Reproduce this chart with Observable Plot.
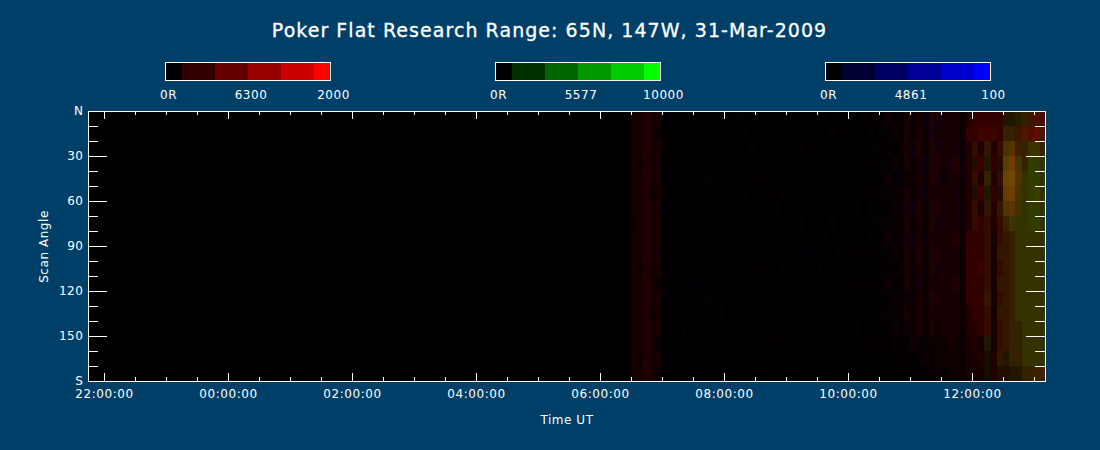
<!DOCTYPE html>
<html>
<head>
<meta charset="utf-8">
<script src="https://cdn.jsdelivr.net/npm/d3@7"></script>
<script src="https://cdn.jsdelivr.net/npm/@observablehq/plot@0.6"></script>
<style>
html,body{margin:0;padding:0;background:#004068;width:1100px;height:450px;overflow:hidden}
#title{position:absolute;left:0;top:18px;width:1099px;text-align:center;color:#fff;font:19px "DejaVu Sans",sans-serif;letter-spacing:1.05px;line-height:24px;-webkit-text-stroke:.3px #fff}
.pane{position:absolute}
svg{display:block}
</style>
</head>
<body>
<div id="title">Poker Flat Research Range: 65N, 147W, 31-Mar-2009</div>
<div class="pane" id="leg0" style="left:150px;top:50px"></div>
<div class="pane" id="leg1" style="left:480px;top:50px"></div>
<div class="pane" id="leg2" style="left:810px;top:50px"></div>
<div class="pane" id="main" style="left:0;top:100px"></div>
<script>
// Scan angle of the top of each row, degrees
const scanAngles = [0,10,20,30,40,50,60,70,80,90,100,110,120,130,140,150,160,170];
const angleTicks = [0,30,60,90,120,150,180];
const angleLabels = ["N","30","60","90","120","150","S"];
// One digit per 6-minute column from 06:30 UT; digitLevels gives its display intensity
const digitLevels = [0,4,12,22,33,51,60,70,80,92,102,112];
const red6300 = [
"3343300100 0010000100 1000100100 0100010101 1211323243 3332455555 4445687",
"3343201001 0000100010 0010010001 0010100010 1121323233 3332556665 5568897",
"3343310100 1000010001 0001000101 0001001001 1112324243 3332454545 7965665",
"3243301010 0100001000 1000100010 0100100101 1121323243 3342446454 9b75555",
"3343300100 0010100001 0100001001 0010010010 1211223243 2332454545 ab85555",
"3342310010 1000010010 0010100100 1000100101 1112323233 3332446454 ab75565",
"3343301000 0100100001 0001000010 0101001010 1121324243 3332454545 8965555",
"2343301010 0001000100 1000010100 0010010001 1112323243 3332455545 6655555",
"3343300001 0010010000 0100100001 0100100010 1211323233 3342555535 5555555",
"3343300100 1000100010 0010001000 0001010101 1121324243 3332555535 5555555",
"3243301001 0001000001 1000100100 1000100010 1112323243 3332556535 5555555",
"3343210010 0100010010 0001000010 0010010101 1211323233 3342555535 5555555",
"3343300100 0010001000 0100100001 0100001010 1121223243 3332555535 5555555",
"3342301000 1000100010 0010001000 0001010001 1112323233 3332455535 5555555",
"3343301010 0010000100 1000010001 0010001010 1121223232 3332445535 5555555",
"3343200100 0100010000 0010100010 0000100101 1011122122 2322343435 5555555",
"3243300010 0001000100 0100001000 0100010010 0101111212 2222334345 4555555",
"3343200100 1000001000 0010010000 0001000100 0010101112 1222333344 4445567"
];
// Green is empty before 11:30 UT: these rows hold the last 17 columns
const green5577 = [
"0000000000 3344322","0000001010 4433223","0000020302 5544554","0000020302 6654665",
"0000020402 7755665","0000020302 6655665","0000020303 5555665","0000020202 4555665",
"0000000202 3455555","0000000203 3455555","0000000202 3455555","0000000203 3455555",
"0000000302 3455555","0000000203 3455555","0000000202 3445555","0000000302 3445555",
"0000000203 3445555","0000000202 2334444"
];
// Blue is empty after 12:00 UT: these rows hold the first 55 columns
const blue4861 = [
"0000010000 0100000100 0010001000 0100010101 0101010202 10101",
"0000000100 0001000010 1000010010 0010001010 1010101121 01010",
"0000000010 0100100001 0000100100 1000100101 0101020102 10201",
"0000100000 1000010000 0100010001 0001010010 1010101211 02010",
"0000001000 0010000100 0010000100 0100100101 0102010102 01101",
"0000000001 0000100010 1000100010 0010010010 1010101201 10200",
"0000010000 1001000000 0001001000 1000101010 0101021010 20100",
"0000000100 0000010001 0100000100 0010010101 1010101102 01010",
"0000000010 0100000100 0001010000 0100100010 0101020101 10101",
"0000100000 0010010000 1000000101 0001001010 1010101011 01010",
"0000001000 0000100010 0010100000 1000100101 0101010102 10100",
"0000000001 1000001000 0100001000 0100010010 1010102010 01010",
"0000010000 0010000010 0001000100 0010010101 0101010101 10100",
"0000000100 0100100000 1000100000 1000100010 1010101010 01010",
"0000000010 0000010001 0010000100 0001001001 0100101001 00100",
"0000100000 0001000100 0000010000 1000010010 0010010100 10010",
"0000001000 0100000000 1000000100 0001000100 0001001000 00100",
"0000000001 0000100000 0001000010 0000100010 0000100010 00000"
];
// Colour bars
const barEdgesRed = [0,200,600,1000,1400,1800,2000];
const barEdgesGreen = [0,1000,3000,5000,7000,9000,10000];
const barEdgesBlue = [0,10,30,50,70,90,100];
const barLevels = [0,50,100,153,204,255];
const legendTexts = [["0R","6300","2000"],["0R","5577","10000"],["0R","4861","100"]];

const font = '"DejaVu Sans",sans-serif';
const parseRows = (rows) => rows.map(r => r.replace(/ /g,"").split("").map(c => parseInt(c,36)));
const R = parseRows(red6300), G = parseRows(green5577), B = parseRows(blue4861);
const t0 = Date.UTC(2009,2,31,6,30);
const colMs = 6*60000;
const nCols = R[0].length;
const cells = [];
scanAngles.forEach((a,j) => {
  for (let i=0;i<nCols;i++){
    const g = G[j][i-(nCols-G[j].length)] || 0;
    const b = B[j][i] || 0;
    cells.push({t1:new Date(t0+i*colMs), t2:new Date(t0+(i+1)*colMs), a1:a, a2:a+10, r:R[j][i], g, b});
  }
});
const toCss = d => `rgb(${digitLevels[d.r]},${digitLevels[d.g]},${digitLevels[d.b]})`;

const xStart = new Date(Date.UTC(2009,2,30,22,0) - 16/62*3600000);
const xEnd = new Date(Date.UTC(2009,2,30,22,0) + 957/62*3600000 - 16/62*3600000);
const majorT = d3.utcHour.every(2).range(xStart,xEnd);
const minorT = d3.utcMinute.every(30).range(xStart,xEnd).filter(d => !(d.getUTCHours()%2===0 && d.getUTCMinutes()===0));
const minorA = d3.range(10,180,10).filter(a => a%30!==0);
const majorA = [30,60,90,120,150];
const W = 957, H = 270;
const tk = {stroke:"white", strokeWidth:1, shapeRendering:"crispEdges"};

const main = Plot.plot({
  width:1100, height:350, marginLeft:88, marginRight:55, marginTop:11, marginBottom:69,
  style:{background:"transparent",color:"white",fontFamily:font,fontSize:"12px",letterSpacing:"0.55px"},
  x:{type:"utc",domain:[xStart,xEnd]},
  y:{domain:[0,180],reverse:false,range:[11,281]},
  color:{type:"identity"},
  marks:[
    Plot.frame({fill:"black",stroke:"none"}),
    Plot.rect(cells,{x1:"t1",x2:"t2",y1:"a1",y2:"a2",fill:toCss,inset:0,shapeRendering:"crispEdges"}),
    Plot.tickX(minorT,{x:d=>d,insetTop:H-4,...tk}),
    Plot.tickX(minorT,{x:d=>d,insetBottom:H-4,...tk}),
    Plot.tickX(majorT,{x:d=>d,insetTop:H-8,...tk}),
    Plot.tickX(majorT,{x:d=>d,insetBottom:H-8,...tk}),
    Plot.tickY(minorA,{y:d=>d,insetRight:W-10,...tk}),
    Plot.tickY(minorA,{y:d=>d,insetLeft:W-10,...tk}),
    Plot.tickY(majorA,{y:d=>d,insetRight:W-19,...tk}),
    Plot.tickY(majorA,{y:d=>d,insetLeft:W-19,...tk}),
    Plot.frame({stroke:"white",strokeWidth:1}),
    Plot.axisX({ticks:majorT,tickSize:0,tickPadding:8,tickFormat:d3.utcFormat("%H:%M:%S"),fontSize:12,label:"Time UT",labelAnchor:"center",labelArrow:"none",labelOffset:42}),
    Plot.axisY({ticks:angleTicks,tickSize:0,tickPadding:5,tickFormat:d=>angleLabels[angleTicks.indexOf(d)],fontSize:12,label:"Scan Angle",labelAnchor:"center",labelArrow:"none",labelOffset:49})
  ]
});
document.getElementById("main").append(main);

function bar(id, edges, channel, texts){
  const max = edges[edges.length-1];
  const segs = barLevels.map((v,i)=>({x1:edges[i],x2:edges[i+1],fill:channel==="r"?`rgb(${v},0,0)`:channel==="g"?`rgb(0,${v},0)`:`rgb(0,0,${v})`}));
  const ticks = [0,max/2,max];
  const p = Plot.plot({
    width:200,height:56,marginLeft:15,marginRight:20,marginTop:12,marginBottom:26,
    style:{background:"transparent",color:"white",fontFamily:font,fontSize:"12px",letterSpacing:"0.55px"},
    x:{domain:[0,max]}, y:{axis:null,domain:[0,1]}, color:{type:"identity"},
    marks:[
      Plot.rect(segs,{x1:"x1",x2:"x2",y1:0,y2:1,fill:"fill",shapeRendering:"crispEdges"}),
      Plot.frame({stroke:"white",strokeWidth:1}),
      Plot.axisX({ticks,tickSize:0,tickPadding:10,dx:3,fontSize:12,tickFormat:d=>texts[ticks.indexOf(d)],label:null})
    ]
  });
  p.style.overflow="visible";
  document.getElementById(id).append(p);
}
bar("leg0",barEdgesRed,"r",legendTexts[0]);
bar("leg1",barEdgesGreen,"g",legendTexts[1]);
bar("leg2",barEdgesBlue,"b",legendTexts[2]);
</script>
</body>
</html>
